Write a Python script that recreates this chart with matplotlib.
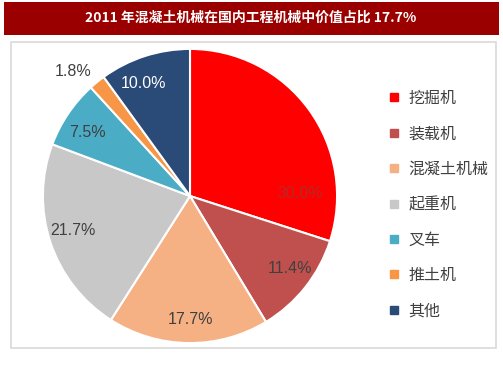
import numpy as np
import matplotlib.pyplot as plt
from matplotlib.patches import Rectangle
from matplotlib.lines import Line2D

plt.rcParams['font.family'] = ['Noto Sans CJK SC', 'DejaVu Sans']

title = '2011 年混凝土机械在国内工程机械中价值占比 17.7%'
categories = ['挖掘机', '装载机', '混凝土机械', '起重机', '叉车', '推土机', '其他']
shares = [30.0, 11.4, 17.7, 21.7, 7.5, 1.8, 10.0]
colors = ['#FF0000', '#C0504D', '#F5B183', '#C8C8C8', '#4BACC6', '#F79646', '#2A4A78']

W, H = 503, 378
fig = plt.figure(figsize=(W / 100, H / 100), dpi=100)

# title bar and outer frame
fig.patches.append(Rectangle((4 / W, 1 - 35 / H), 495 / W, 33 / H, transform=fig.transFigure,
                             facecolor='#9B0000', edgecolor='none', zorder=-2))
fig.patches.append(Rectangle((11 / W, 1 - 348 / H), 485 / W, 306 / H, transform=fig.transFigure,
                             facecolor='none', edgecolor='#D9D9D9', linewidth=1.2, zorder=-2))
fig.text(251 / W, 1 - 18 / H, title, color='white', fontsize=10, fontweight='bold',
         ha='center', va='center')

# pie axes (centre ~ (190,196) px, radius ~147 px)
cx, cy, half = 190, 196, 150
ax = fig.add_axes([(cx - half) / W, (H - cy - half) / H, 2 * half / W, 2 * half / H])
ax.set_zorder(2)
wedges, _ = ax.pie(shares, colors=colors, startangle=90, counterclock=False,
                   wedgeprops=dict(edgecolor='white', linewidth=1.5))
ax.set_xlim(-1.02, 1.02)
ax.set_ylim(-1.02, 1.02)
ax.set_aspect('equal')
ax.axis('off')

# percentage labels (Excel best-fit placement)
label_r = [0.75, 0.84, 0.84, 0.83, 0.82, 1.16, 0.83]
label_shift = [-34.5, 2.5, 1, -2, 2.5, 4, 4.5]
label_colors = ['#B82828', '#404040', '#404040', '#404040', '#404040', '#404040', 'white']
for w, s, r, d, lc in zip(wedges, shares, label_r, label_shift, label_colors):
    ang = np.deg2rad((w.theta1 + w.theta2) / 2 + d)
    ax.text(r * np.cos(ang), r * np.sin(ang), f'{s:.1f}%', ha='center', va='center',
            fontsize=11.5, color=lc, family=['Liberation Sans', 'DejaVu Sans'],
            clip_on=False)

handles = [Line2D([], [], marker='s', linestyle='none', markersize=6,
                  markerfacecolor=c, markeredgecolor=c) for c in colors]
fig.legend(handles, categories, loc='upper left', bbox_to_anchor=(380 / W, 1 - 82 / H),
           frameon=False, fontsize=11.5, labelcolor='#404040', handlelength=0.8,
           handletextpad=0.5, labelspacing=1.15, borderpad=0)

fig.savefig('out.png', dpi=100)
